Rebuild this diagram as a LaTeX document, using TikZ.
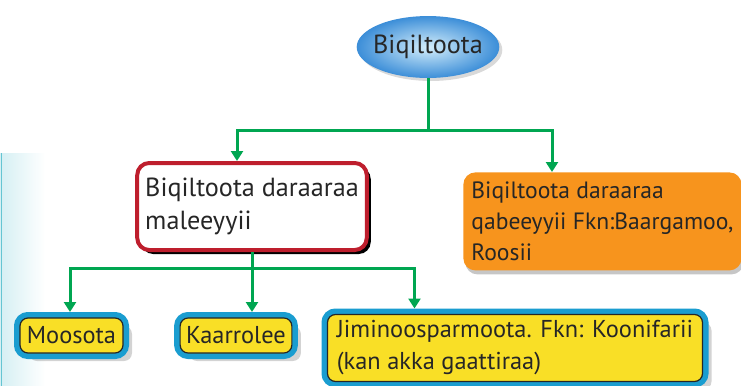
\documentclass[tikz,border=0pt]{standalone}
\usepackage{fontspec}
\setmainfont{PT Sans}
\usetikzlibrary{arrows.meta,positioning,calc,shapes.geometric,shadows}
\definecolor{linegreen}{HTML}{00A651}
\definecolor{boxred}{HTML}{BE1E2D}
\definecolor{boxorange}{HTML}{F7941D}
\definecolor{boxyellow}{HTML}{F9DF26}
\definecolor{boxcyan}{HTML}{1A9DD0}
\definecolor{ellipsein}{HTML}{D4EEFB}
\definecolor{ellipseout}{HTML}{3C8ED8}
\definecolor{stripteal}{HTML}{3FB6C8}
\newcommand{\bigfont}{\fontsize{13.1pt}{16.5pt}\selectfont}
\newcommand{\midfont}{\fontsize{11.8pt}{15.5pt}\selectfont}
\newcommand{\smallfont}{\fontsize{12.2pt}{16pt}\selectfont}
\tikzset{
  rootnode/.style={ellipse, inner color=ellipsein, outer color=ellipseout, inner xsep=-2.2pt, inner ysep=5pt, font=\bigfont, text=black!85,
    drop shadow={shadow xshift=1.5pt, shadow yshift=-1.5pt, opacity=0.3}},
  redbox/.style={draw=boxred, line width=2pt, fill=white, rounded corners=6pt, align=left, inner xsep=4pt, inner ysep=5pt, minimum height=43.5pt, font=\bigfont, text=black!85,
    drop shadow={shadow xshift=2pt, shadow yshift=-2pt, opacity=1, fill=black}},
  orangebox/.style={fill=boxorange, rounded corners=6pt, align=left, inner xsep=4pt, inner ysep=2pt, font=\midfont, text=black!85,
    drop shadow={shadow xshift=1pt, shadow yshift=-2pt, opacity=0.45}},
  yellowbox/.style={fill=boxyellow, draw=black!85, line width=0.6pt, rounded corners=4pt, outer sep=3pt, inner xsep=3pt, inner ysep=2pt, font=\smallfont, text=black!85,
    drop shadow={shadow xshift=4.5pt, shadow yshift=-4pt, opacity=0.35},
    preaction={draw=boxcyan, line width=6pt}},
  link/.style={draw=linegreen, line width=1.5pt},
  arrow/.style={link, -{Triangle[length=5pt,width=6pt]}}
}
\begin{document}
\begin{tikzpicture}[x=0.5pt,y=-0.5pt]
\useasboundingbox (0,0) rectangle (741,386);
% left edge strip
\shade[left color=stripteal!22, right color=white] (0,153) rectangle (45,386);
\draw[stripteal!80, line width=0.8pt] (1.5,153) -- (1.5,386);

\node[rootnode] (root) at (428,47) {Biqiltoota};
\node[redbox] (mal) at (252,206.5) {Biqiltoota daraaraa\\maleeyyii};
\node[orangebox, anchor=north west, minimum height=49pt] (qab) at (463,172) {Biqiltoota daraaraa\\qabeeyyii Fkn:Baargamoo,\\Roosii};
\node[yellowbox, minimum width=51.5pt, minimum height=17.5pt] (moo) at (71.5,335.5) {Moosota};
\node[yellowbox, minimum width=54pt, minimum height=17.5pt] (kaa) at (236,335.5) {Kaarrolee};
\node[yellowbox, align=left, minimum width=187.5pt, minimum height=33.5pt] (jim) at (515,348) {Jiminoosparmoota. Fkn: Koonifarii\\(kan akka gaattiraa)};

\coordinate (j1) at (428,130);
\coordinate (j2) at (252,268);
\draw[link] (root) -- (j1);
\draw[arrow] (j1) -| ([xshift=-7.5pt]mal.north);
\draw[arrow] (j1) -| ([xshift=44.5pt]qab.north west);
\draw[link] (mal) -- (j2);
\draw[arrow] (j2) -| ([xshift=-0.75pt]moo.north);
\draw[arrow] (j2) -| ([xshift=8pt]kaa.north);
\draw[arrow] (j2) -| ([xshift=46.5pt]jim.north west);
\end{tikzpicture}
\end{document}
